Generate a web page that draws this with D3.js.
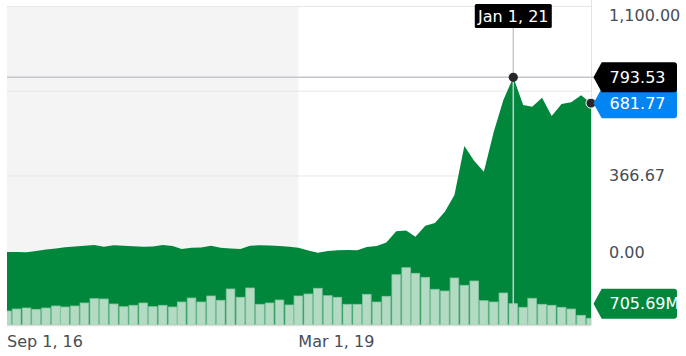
<!DOCTYPE html>
<html><head><meta charset="utf-8">
<script src="https://cdn.jsdelivr.net/npm/d3@7"></script>
<style>body{margin:0;background:#fff}svg{display:block}text{font-family:"DejaVu Sans",sans-serif}</style>
</head><body><svg id="c" width="686" height="356"></svg>
<script>
const months = ["2016-09","2016-10","2016-11","2016-12","2017-01","2017-02","2017-03","2017-04","2017-05","2017-06","2017-07","2017-08","2017-09","2017-10","2017-11","2017-12",
"2018-01","2018-02","2018-03","2018-04","2018-05","2018-06","2018-07","2018-08","2018-09","2018-10","2018-11","2018-12",
"2019-01","2019-02","2019-03","2019-04","2019-05","2019-06","2019-07","2019-08","2019-09","2019-10","2019-11","2019-12",
"2020-01","2020-02","2020-03","2020-04","2020-05","2020-06","2020-07","2020-08","2020-09","2020-10","2020-11","2020-12",
"2021-01","2021-02","2021-03","2021-04","2021-05","2021-06","2021-07","2021-08","2021-09"];
const prices = [37.9,37.9,36.6,42.2,48.7,53.0,58.2,61.7,65.1,68.2,60.8,66.9,65.1,62.5,60.8,61.7,
68.2,63.8,50.8,56.5,57.3,65.1,56.5,53.0,50.8,65.1,66.9,66.0,63.8,60.8,56.0,44.4,34.8,42.2,45.2,46.5,45.2,59.5,63.8,79.0,
127.4,130.9,104.1,151.7,163.3,212.2,284.5,496.5,431.6,385.3,558.3,695.5,
793.53,673.8,666.5,705.4,626.3,678.2,685.5,715.8,681.77];
const volumes = [464,530,563,520,563,629,596,629,729,871,861,696,606,653,729,606,
653,596,762,894,762,961,818,1193,918,1226,686,729,828,663,961,1027,1216,971,918,686,686,1017,762,951,
1666,1898,1713,1580,1183,1126,1557,1315,1458,805,762,1060,
705.69,586,885,686,653,586,530,321,222];
const priceTicks = [0, 366.67, 733.33, 1100];
const xTickDates = ["2016-09","2019-03"];
const xTickLabels = ["Sep 1, 16","Mar 1, 19"];
const shadedRange = ["2016-09","2019-03"];
const focusMonth = "2021-01";
const focusLabel = "Jan 1, 21";

const parse = d3.timeParse("%Y-%m");
const data = months.map((m,i)=>({date:parse(m), price:prices[i], vol:volumes[i]}));
const L=7, R=591, B=325;
const svg = d3.select("#c");
const x = d3.scaleTime().domain(d3.extent(data,d=>d.date)).range([L,R]);
const y = d3.scaleLinear().domain([0,1100]).range([260.7,6.5]);
const yv = d3.scaleLinear().domain([0,705.69]).range([B,B-21.3]);
const fmt = d3.format(",.2f");

svg.append("defs").append("clipPath").attr("id","clip").append("rect")
  .attr("x",L).attr("y",0).attr("width",R-L).attr("height",B);

svg.append("rect").attr("x",x(parse(shadedRange[0]))).attr("y",y(1100))
  .attr("width",x(parse(shadedRange[1]))-x(parse(shadedRange[0]))).attr("height",B-y(1100))
  .attr("fill","#f4f4f4");

svg.append("g").selectAll("line").data(priceTicks).join("line")
  .attr("x1",L).attr("x2",R).attr("y1",d=>y(d)).attr("y2",d=>y(d))
  .attr("stroke","#e6e6e6").attr("stroke-width",1);

const g = svg.append("g").attr("clip-path","url(#clip)");
g.append("path").datum(data)
  .attr("d", d3.area().x(d=>x(d.date)).y0(B).y1(d=>y(d.price)))
  .attr("fill","#00873c");
const bw = 8.6;
g.selectAll("rect.v").data(data).join("rect").attr("class","v")
  .attr("x",d=>x(d.date)-bw/2).attr("y",d=>yv(d.vol)).attr("width",bw)
  .attr("height",d=>B-yv(d.vol))
  .attr("fill","#b3dbc4").attr("stroke","#86c6a0").attr("stroke-width",0.8);

svg.append("line").attr("x1",L).attr("x2",R).attr("y1",B+0.5).attr("y2",B+0.5)
  .attr("stroke","#dedede").attr("stroke-width",1.5);
svg.append("line").attr("x1",R+0.5).attr("x2",R+0.5).attr("y1",0).attr("y2",B)
  .attr("stroke","#e2e2e8").attr("stroke-width",1);

svg.append("g").selectAll("text").data(xTickDates).join("text")
  .attr("x",d=>x(parse(d))).attr("y",346.5).attr("fill","#464e56")
  .attr("font-size",16).text((d,i)=>xTickLabels[i]);

const f = data.find(d=>d.date.getTime()===parse(focusMonth).getTime());
const last = data[data.length-1];
svg.append("line").attr("x1",L).attr("x2",600).attr("y1",y(f.price)).attr("y2",y(f.price))
  .attr("stroke","#c4c6cc").attr("stroke-width",1.6);
svg.append("line").attr("x1",x(f.date)).attr("x2",x(f.date)).attr("y1",26).attr("y2",B)
  .attr("stroke","#c8c9d0").attr("stroke-width",1.5);
svg.append("circle").attr("cx",x(f.date)).attr("cy",y(f.price)).attr("r",4.6).attr("fill","#26272b");
svg.append("circle").attr("cx",x(last.date)).attr("cy",y(last.price)).attr("r",5).attr("fill","#26272b")
  .attr("stroke","#fff").attr("stroke-width",1);

// y labels: skip those hidden under the value tags
const tagCenters = [y(f.price), y(last.price), yv(f.vol)];
const labelTicks = priceTicks.filter(v => tagCenters.every(c => Math.abs(y(v)-c) > 22));
svg.append("g").selectAll("text").data(labelTicks).join("text")
  .attr("x",609).attr("y",d=>Math.max(15,Math.min(252,y(d))))
  .attr("dominant-baseline","central").attr("fill","#464e56").attr("font-size",16)
  .text(d=>fmt(d));

function tag(cy, color, label){
  const h=30, tip=593.5, bx=601.7, rx=677, r=3;
  svg.append("path").attr("d",`M${tip},${cy} L${bx},${cy-h/2} H${rx-r} Q${rx},${cy-h/2} ${rx},${cy-h/2+r} V${cy+h/2-r} Q${rx},${cy+h/2} ${rx-r},${cy+h/2} H${bx} Z`)
    .attr("fill",color);
  svg.append("text").attr("x",609.5).attr("y",cy).attr("dominant-baseline","central")
    .attr("fill","#fff").attr("font-size",16).text(label);
}
tag(yv(f.vol), "#00873c", d3.format(".2f")(f.vol)+"M");
tag(y(last.price), "#0384f3", fmt(last.price));
tag(y(f.price), "#000", fmt(f.price));

const dx = x(f.date);
svg.append("rect").attr("x",dx-38.5).attr("y",4).attr("width",77).attr("height",24).attr("rx",1.5).attr("fill","#000");
svg.append("text").attr("x",dx).attr("y",16).attr("text-anchor","middle").attr("dominant-baseline","central")
  .attr("fill","#fff").attr("font-size",16).text(focusLabel);
</script></body></html>
